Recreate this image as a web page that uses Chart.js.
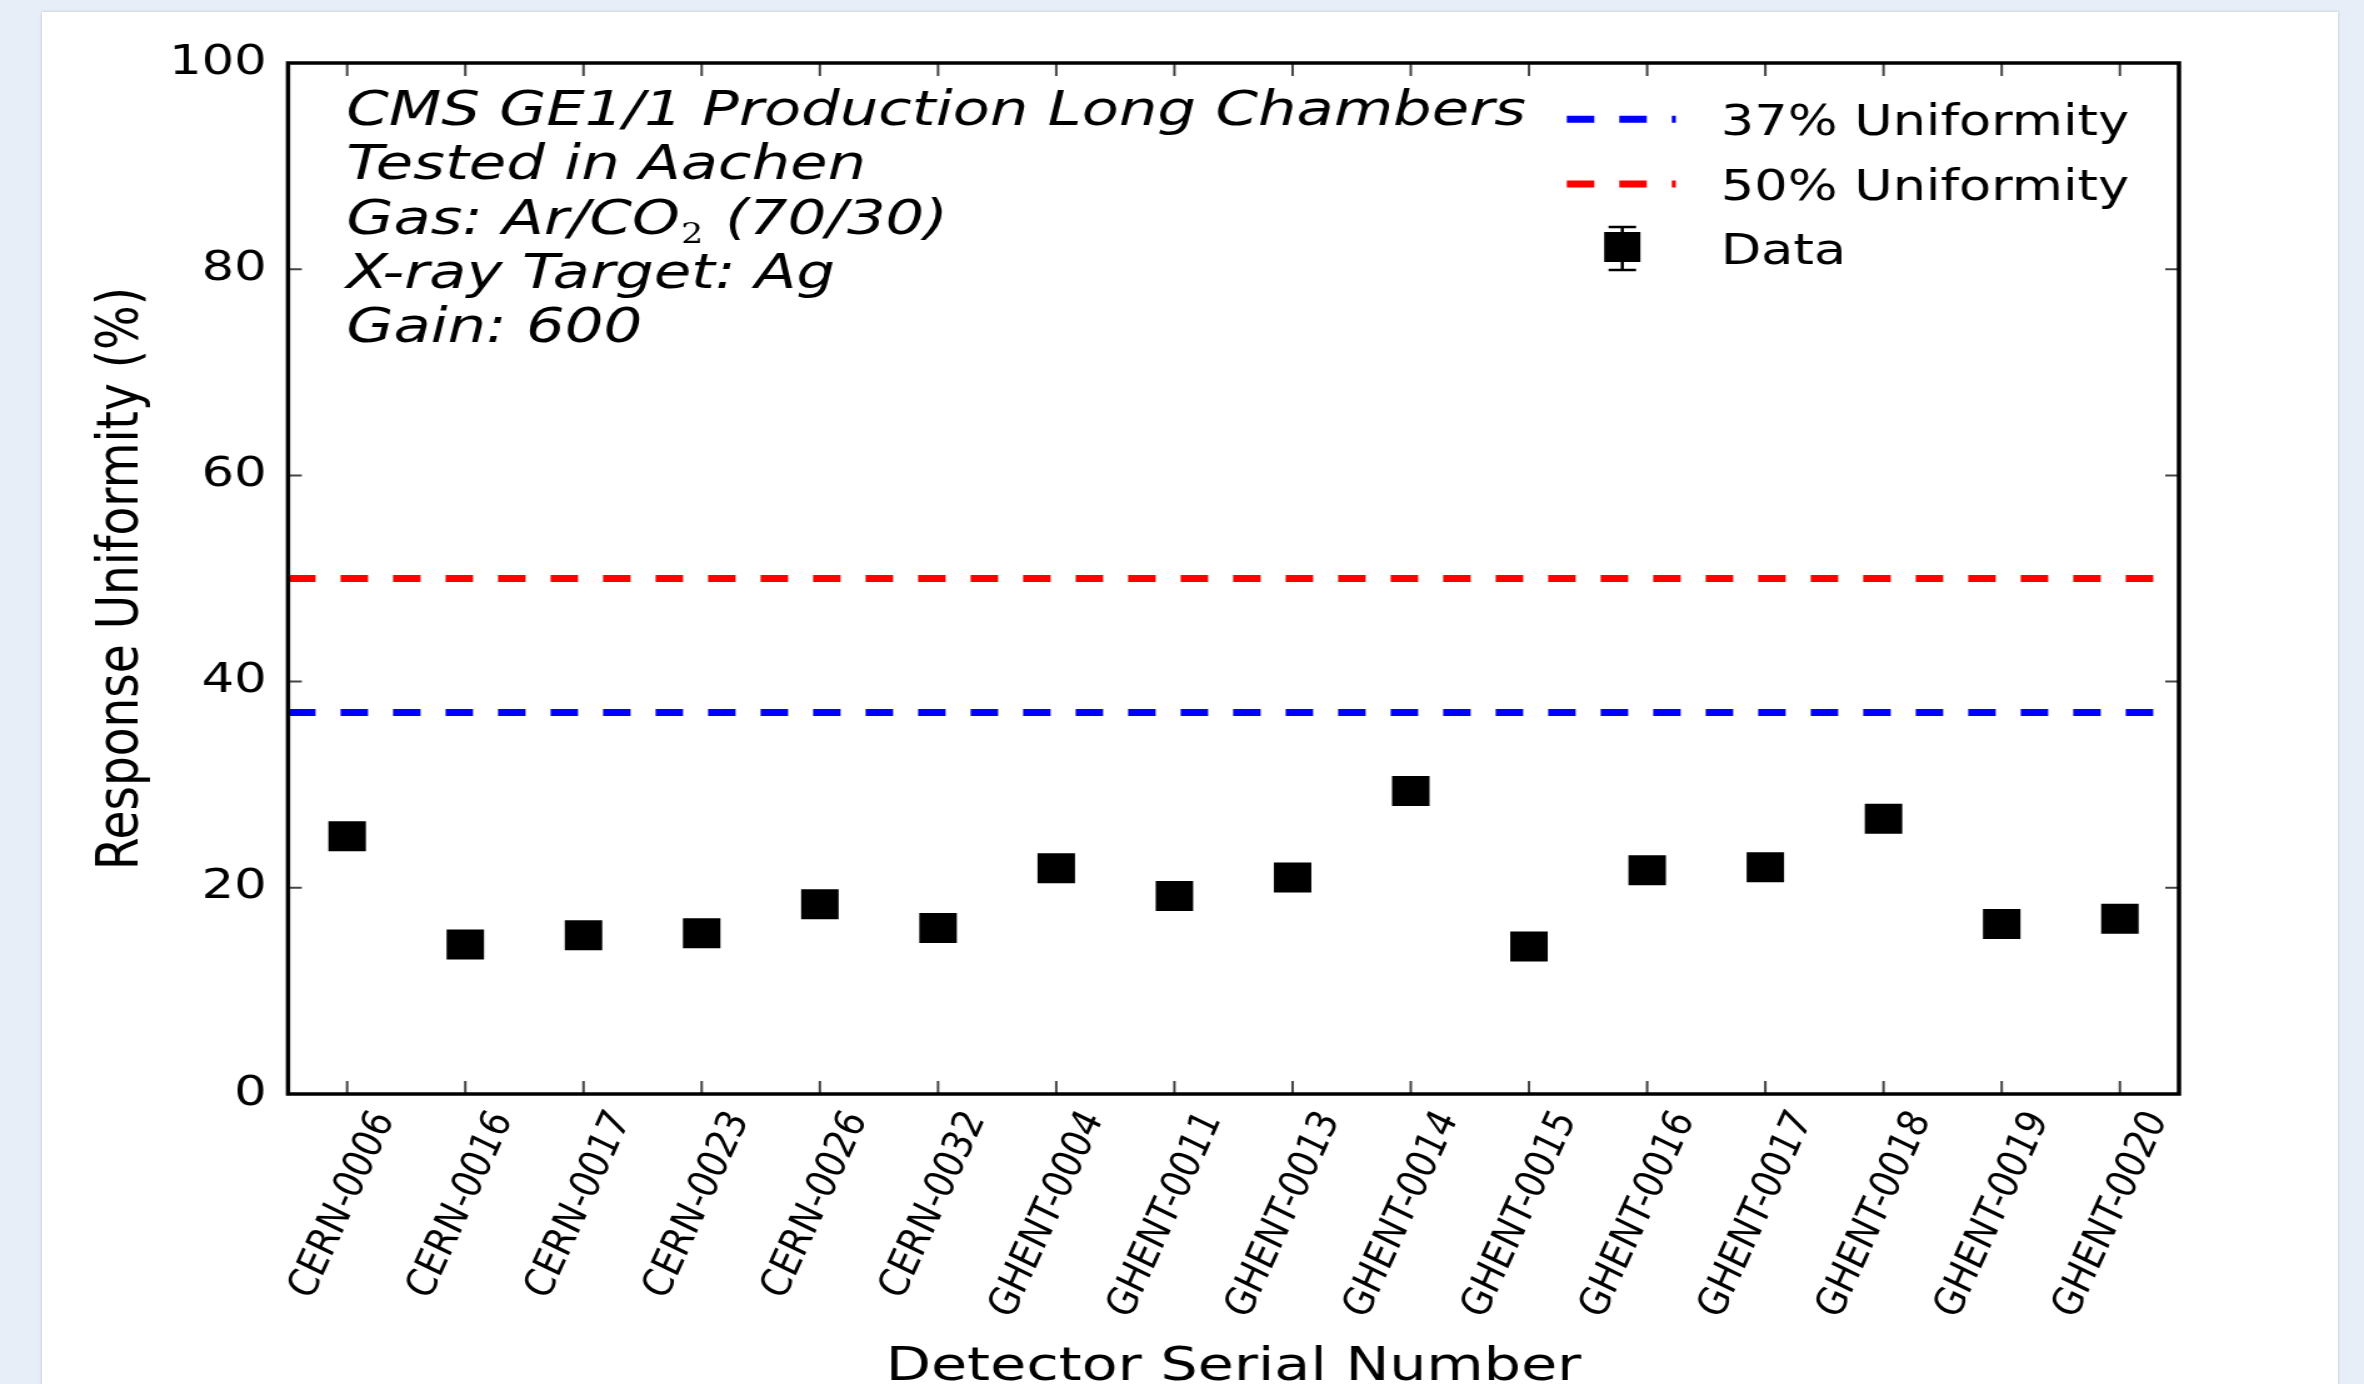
<!DOCTYPE html>
<html>
<head>
<meta charset="utf-8">
<script src="https://cdn.jsdelivr.net/npm/chart.js@4.4.1/dist/chart.umd.min.js"></script>
<style>
  html, body { margin: 0; padding: 0; }
  body { width: 2364px; height: 1384px; background: #e7eef8; position: relative; overflow: hidden; }
  #card { position: absolute; left: 42px; top: 12px; width: 2296px; height: 1400px; background: #fff; box-shadow: 0 0 3px rgba(0, 0, 0, 0.2); }
  /* the reference is a matplotlib png shown stretched sideways, so the chart is drawn narrow and stretched the same way */
  #stretch { position: absolute; left: 0; top: 0; width: 1891px; height: 1384px; transform: scaleX(1.25013); transform-origin: 0 0; }
</style>
</head>
<body>
<div id="card"></div>
<div id="stretch"><canvas id="chart"></canvas></div>
<script>
// values
const detectors = [
  "CERN-0006", "CERN-0016", "CERN-0017", "CERN-0023", "CERN-0026", "CERN-0032",
  "GHENT-0004", "GHENT-0011", "GHENT-0013", "GHENT-0014", "GHENT-0015", "GHENT-0016",
  "GHENT-0017", "GHENT-0018", "GHENT-0019", "GHENT-0020",
];
const uniformity = [25.0, 14.5, 15.4, 15.6, 18.4, 16.1, 21.9, 19.2, 21.0, 29.4, 14.3, 21.7, 22.0, 26.7, 16.5, 17.0];
const yTicks = [0, 20, 40, 60, 80, 100];
const thresholds = [37, 50];
const thresholdLabels = ["37% Uniformity", "50% Uniformity"];
const thresholdColors = ["#0000ff", "#ff0000"];
const infoLines = [
  "CMS GE1/1 Production Long Chambers",
  "Tested in Aachen",
  "Gas: Ar/CO$_2$ (70/30)",
  "X-ray Target: Ag",
  "Gain: 600",
];

const FONT = '"DejaVu Sans", Verdana, sans-serif';
Chart.defaults.font.family = FONT;
Chart.defaults.color = "#000";

const DASH = [22, 20];

// Threshold lines: drawn from the y scale under the markers.
const thresholdLines = {
  id: "thresholdLines",
  beforeDatasetsDraw(chart) {
    const { ctx, chartArea, scales } = chart;
    ctx.save();
    ctx.beginPath();
    ctx.rect(chartArea.left, chartArea.top, chartArea.width, chartArea.height);
    ctx.clip();
    ctx.lineWidth = 7;
    ctx.setLineDash(DASH);
    thresholds.forEach((v, i) => {
      const y = scales.y.getPixelForValue(v);
      ctx.strokeStyle = thresholdColors[i];
      ctx.beginPath();
      ctx.moveTo(chartArea.left, y);
      ctx.lineTo(chartArea.right, y);
      ctx.stroke();
    });
    ctx.restore();
  },
};

// matplotlib-style frame: box spine, inward ticks on all four sides,
// the info text block and the legend.
const mplFrame = {
  id: "mplFrame",
  afterDraw(chart) {
    const { ctx, chartArea: a, scales } = chart;
    ctx.save();

    ctx.strokeStyle = "#444";
    ctx.lineWidth = 2;
    ctx.beginPath();
    yTicks.forEach((v) => {
      const y = scales.y.getPixelForValue(v);
      ctx.moveTo(a.left, y); ctx.lineTo(a.left + 11, y);
      ctx.moveTo(a.right, y); ctx.lineTo(a.right - 11, y);
    });
    detectors.forEach((d, i) => {
      const x = scales.x.getPixelForValue(i);
      ctx.moveTo(x, a.bottom); ctx.lineTo(x, a.bottom - 13);
      ctx.moveTo(x, a.top); ctx.lineTo(x, a.top + 13);
    });
    ctx.stroke();

    ctx.strokeStyle = "#000";
    ctx.lineWidth = 3.5;
    ctx.strokeRect(a.left, a.top, a.width, a.height);

    // info block, italic, with the CO2 subscript set smaller in a serif face
    ctx.fillStyle = "#000";
    ctx.textBaseline = "alphabetic";
    ctx.textAlign = "left";
    const tx = a.left + 46.5;
    infoLines.forEach((line, i) => {
      const y = a.top + 62 + i * 54.3;
      const parts = line.split("$_2$");
      let x = tx;
      parts.forEach((p, k) => {
        ctx.font = `italic 48.7px ${FONT}`;
        ctx.fillText(p, x, y);
        x += ctx.measureText(p).width;
        if (k < parts.length - 1) {
          ctx.font = '28px "DejaVu Serif", serif';
          ctx.fillText("2", x + 1, y + 9);
          x += ctx.measureText("2").width + 3;
        }
      });
    });

    // legend
    const lx = a.right - 489.7;
    const textX = a.right - 366.5;
    const rows = [a.top + 56.3, a.top + 121, a.top + 184];
    ctx.font = `42px ${FONT}`;
    ctx.textBaseline = "alphabetic";
    thresholds.forEach((v, i) => {
      ctx.strokeStyle = thresholdColors[i];
      ctx.lineWidth = 7;
      ctx.setLineDash(DASH);
      ctx.beginPath();
      ctx.moveTo(lx, rows[i]);
      ctx.lineTo(lx + 87.2, rows[i]);
      ctx.stroke();
      ctx.fillText(thresholdLabels[i], textX, rows[i] + 15.5);
    });
    ctx.setLineDash([]);
    const mx = lx + 44.4;
    const my = rows[2];
    ctx.strokeStyle = "#000";
    ctx.lineWidth = 2.5;
    ctx.beginPath();
    ctx.moveTo(mx, my - 20); ctx.lineTo(mx, my + 23);
    ctx.moveTo(mx - 11, my - 20); ctx.lineTo(mx + 11, my - 20);
    ctx.moveTo(mx - 11, my + 23); ctx.lineTo(mx + 11, my + 23);
    ctx.stroke();
    ctx.fillRect(mx - 14.5, my - 15, 29, 30);
    ctx.fillText("Data", textX, my + 16.5);

    ctx.restore();
  },
};

new Chart(document.getElementById("chart"), {
  type: "line",
  data: {
    labels: detectors,
    datasets: [
      {
        label: "Data",
        data: uniformity,
        showLine: false,
        pointStyle: "rect",
        pointRadius: 21.2,
        pointHoverRadius: 21.2,
        pointBackgroundColor: "#000",
        pointBorderWidth: 0,
      },
    ],
  },
  options: {
    responsive: true,
    maintainAspectRatio: false,
    animation: false,
    layout: { padding: { top: 63, right: 148, left: 0, bottom: 0 } },
    plugins: { legend: { display: false }, tooltip: { enabled: false } },
    scales: {
      x: {
        type: "category",
        offset: true,
        grid: { display: false, drawTicks: false },
        border: { display: false },
        ticks: {
          autoSkip: false,
          minRotation: 70,
          maxRotation: 70,
          labelOffset: 30,
          padding: 13,
          color: "#000",
          font: { size: 34, style: "italic" },
        },
        title: {
          display: true,
          text: "Detector Serial Number",
          color: "#000",
          font: { size: 47, lineHeight: 0.7 },
          padding: { top: 0, bottom: 0 },
        },
        afterFit(scale) { scale.height = 290; },
      },
      y: {
        min: 0,
        max: 100,
        grid: { display: false, drawTicks: false },
        border: { display: false },
        afterBuildTicks(scale) { scale.ticks = yTicks.map((v) => ({ value: v })); },
        ticks: { padding: 17, color: "#000", font: { size: 41 } },
        title: {
          display: true,
          text: "Response Uniformity (%)",
          color: "#000",
          font: { size: 47 },
          padding: { top: 70, bottom: 0 },
        },
        afterFit(scale) { scale.width = 230.4; },
      },
    },
  },
  plugins: [thresholdLines, mplFrame],
});
</script>
</body>
</html>
